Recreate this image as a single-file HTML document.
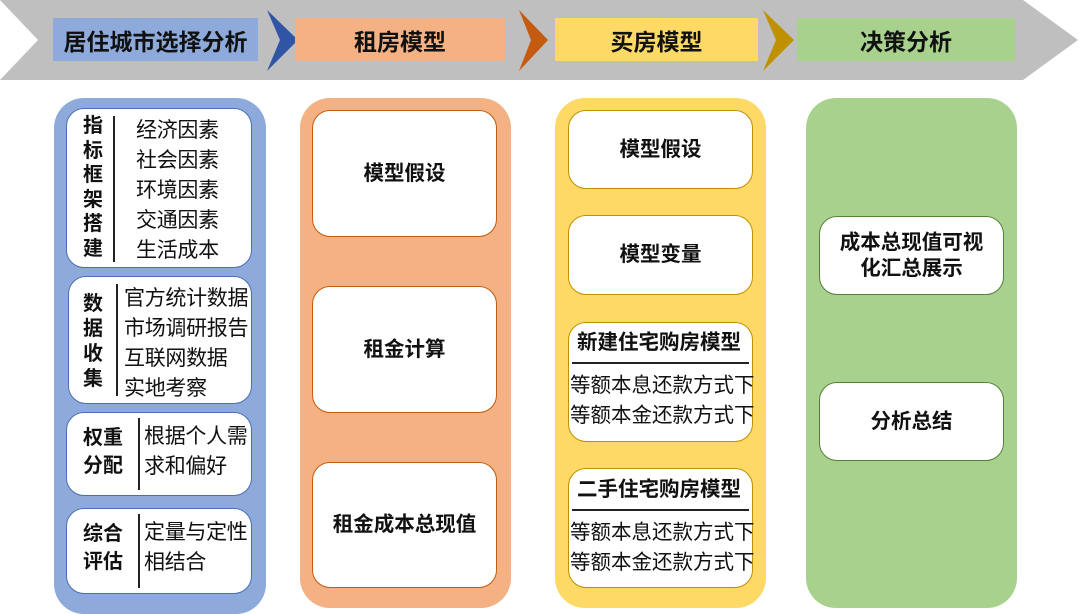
<!DOCTYPE html>
<html><head><meta charset="utf-8"><style>
*{margin:0;padding:0;box-sizing:border-box}
body{width:1080px;height:610px;background:#fff;position:relative;overflow:hidden;font-family:"Liberation Sans","Noto Sans CJK SC",sans-serif;color:#111}
.a{position:absolute}
.lab{position:absolute;top:18px;height:43px;display:flex;align-items:center;justify-content:center;font-size:23px;font-weight:bold}
.col{position:absolute;top:98px;height:516px;border-radius:30px}
.bx{position:absolute;background:#fff;border-radius:18px;display:flex;align-items:center;justify-content:center;font-weight:bold;font-size:20.5px;text-align:center;line-height:26px}
.vl{position:absolute;border-left:2px solid #222}
.t{position:absolute;font-size:21px;line-height:30px;white-space:nowrap;letter-spacing:-0.3px}
.tb{position:absolute;font-size:20px;font-weight:bold;line-height:30px;white-space:nowrap}
</style></head><body>
<svg class="a" style="left:0;top:0" width="1080" height="90">
<polygon points="0,0 1023,0 1078,40 1023,80 0,80 38,40" fill="#bfbfbf"/>
<polygon points="267,10 298,40 267,71 280,40" fill="#2f55a4"/>
<polygon points="519,10 548,40 519,71 531,40" fill="#c55a11"/>
<polygon points="763,10 794,40 763,71 776,40" fill="#bf9000"/>
</svg>
<div class="lab" style="left:53px;width:205px;background:#8eaadb">居住城市选择分析</div>
<div class="lab" style="left:295px;width:210px;background:#f4b183">租房模型</div>
<div class="lab" style="left:555px;width:203px;background:#ffd966">买房模型</div>
<div class="lab" style="left:797px;width:218px;background:#a9d18e">决策分析</div>

<div class="col" style="left:54px;width:212px;background:#8eaadb"></div>
<div class="col" style="left:300px;width:211px;background:#f4b183;height:510px"></div>
<div class="col" style="left:555px;width:211px;background:#ffd966;height:510px"></div>
<div class="col" style="left:806px;width:211px;background:#a9d18e;height:510px"></div>

<!-- blue -->
<div class="bx" style="left:66px;top:108px;width:186px;height:160px;border:1px solid #4a6fb5"></div>
<div class="tb" style="left:83px;top:114px;width:24px;line-height:24.5px;white-space:normal">指标框架搭建</div>
<div class="vl" style="left:113px;top:116px;height:146px"></div>
<div class="t" style="left:136px;top:116px">经济因素<br>社会因素<br>环境因素<br>交通因素<br>生活成本</div>

<div class="bx" style="left:68px;top:276px;width:184px;height:128px;border:1px solid #4a6fb5"></div>
<div class="tb" style="left:83px;top:292px;width:24px;line-height:25px;white-space:normal">数据收集</div>
<div class="vl" style="left:116px;top:284px;height:112px"></div>
<div class="t" style="left:124px;top:284px;line-height:30px">官方统计数据<br>市场调研报告<br>互联网数据<br>实地考察</div>

<div class="bx" style="left:66px;top:412px;width:186px;height:84px;border:1px solid #4a6fb5"></div>
<div class="tb" style="left:83px;top:424px;line-height:28px">权重<br>分配</div>
<div class="vl" style="left:138px;top:418px;height:72px"></div>
<div class="t" style="left:144px;top:422px">根据个人需<br>求和偏好</div>

<div class="bx" style="left:66px;top:508px;width:186px;height:86px;border:1px solid #4a6fb5"></div>
<div class="tb" style="left:83px;top:520px;line-height:28px">综合<br>评估</div>
<div class="vl" style="left:138px;top:514px;height:74px"></div>
<div class="t" style="left:144px;top:518px">定量与定性<br>相结合</div>

<!-- orange -->
<div class="bx" style="left:312px;top:110px;width:185px;height:127px;border:1px solid #c55a11">模型假设</div>
<div class="bx" style="left:312px;top:286px;width:185px;height:127px;border:1px solid #c55a11">租金计算</div>
<div class="bx" style="left:312px;top:462px;width:185px;height:126px;border:1px solid #c55a11">租金成本总现值</div>

<!-- yellow -->
<div class="bx" style="left:568px;top:110px;width:185px;height:79px;border:1px solid #bf9000">模型假设</div>
<div class="bx" style="left:568px;top:215px;width:185px;height:80px;border:1px solid #bf9000">模型变量</div>
<div class="bx" style="left:568px;top:322px;width:185px;height:120px;border:1px solid #bf9000"></div>
<div class="tb" style="left:577px;top:328px;font-size:20.5px">新建住宅购房模型</div>
<div class="a" style="left:572px;top:362px;width:177px;border-top:2px solid #222"></div>
<div class="t" style="left:570px;top:371px;line-height:30px;font-size:20.5px;letter-spacing:0">等额本息还款方式下<br>等额本金还款方式下</div>
<div class="bx" style="left:568px;top:468px;width:185px;height:120px;border:1px solid #bf9000"></div>
<div class="tb" style="left:577px;top:475px;font-size:20.5px">二手住宅购房模型</div>
<div class="a" style="left:572px;top:509px;width:177px;border-top:2px solid #222"></div>
<div class="t" style="left:570px;top:518px;line-height:30px;font-size:20.5px;letter-spacing:0">等额本息还款方式下<br>等额本金还款方式下</div>

<!-- green -->
<div class="bx" style="left:819px;top:216px;width:185px;height:79px;border:1px solid #548235">成本总现值可视<br>化汇总展示</div>
<div class="bx" style="left:819px;top:382px;width:185px;height:79px;border:1px solid #548235">分析总结</div>
</body></html>
